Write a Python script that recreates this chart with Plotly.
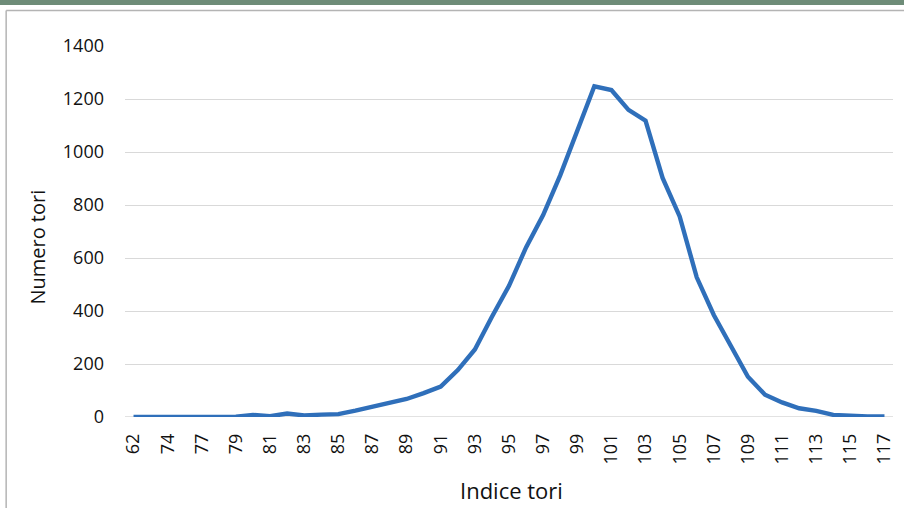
import plotly.graph_objects as go

categories = ["62", "72", "74", "76", "77", "78", "79", "80", "81", "82", "83", "84", "85",
              "86", "87", "88", "89", "90", "91", "92", "93", "94", "95", "96", "97", "98",
              "99", "100", "101", "102", "103", "104", "105", "106", "107", "108", "109",
              "110", "111", "112", "113", "114", "115", "116", "117"]
numero_tori = [0, 0, 0, 0, 0, 0, 1, 8, 3, 13, 6, 9, 11,
               24, 38, 50, 68, 90, 115, 177, 255, 378, 495, 640, 762, 912,
               1075, 1248, 1234, 1159, 1118, 902, 757, 527, 385, 270, 152,
               84, 55, 33, 23, 8, 3, 2, 2]
tick_labels = categories[::2]
y_ticks = [0, 200, 400, 600, 800, 1000, 1200, 1400]

FONT = "Open Sans"
W, H = 904, 508
L, R, T, B = 124.5, 893.5, 46, 417
pw, ph = R - L, B - T

def px(x):
    return (x - L) / pw

def py(y):
    return (B - y) / ph

fig = go.Figure()
fig.add_trace(go.Scatter(
    x=categories, y=numero_tori, mode="lines",
    line=dict(color="#2f6fba", width=4.4),
    hoverinfo="x+y", showlegend=False,
))

fig.update_layout(
    width=W, height=H,
    margin=dict(l=L, r=W - R, t=T, b=H - B, pad=0, autoexpand=False),
    paper_bgcolor="white", plot_bgcolor="white",
    font=dict(family=FONT, color="#000000"),
    xaxis=dict(
        type="category", tickmode="array", tickvals=tick_labels, ticktext=tick_labels,
        tickangle=-90, tickfont=dict(size=18, family=FONT, color="#111"),
        showgrid=False, showline=False, zeroline=False, ticks="",
        ticklabelstandoff=12, range=[-0.5, len(categories) - 0.5], automargin=False,
    ),
    yaxis=dict(
        range=[0, 1400], tickmode="array", tickvals=y_ticks,
        tickfont=dict(size=18, family=FONT, color="#111"),
        showgrid=True, gridcolor="#d9d9d9", gridwidth=1.3,
        zeroline=False, showline=False, ticks="", ticklabelstandoff=20, automargin=False,
    ),
    shapes=[
        dict(type="rect", xref="paper", yref="paper",
             x0=px(-5), x1=px(W + 5), y0=py(5), y1=py(-5),
             fillcolor="#6e8c78", line=dict(width=0), layer="below"),
        dict(type="line", xref="paper", yref="paper",
             x0=px(5.5), x1=px(W + 5), y0=py(10.5), y1=py(10.5),
             line=dict(color="#b4b4b4", width=1.5)),
        dict(type="line", xref="paper", yref="paper",
             x0=px(5.5), x1=px(5.5), y0=py(10.5), y1=py(H + 5),
             line=dict(color="#b4b4b4", width=1.5)),
        dict(type="line", xref="paper", yref="y",
             x0=0, x1=1, y0=0, y1=0,
             line=dict(color="#d9d9d9", width=1.3), layer="below"),
    ],
    annotations=[
        dict(text="Numero tori", xref="paper", yref="paper", x=px(36), y=py(247),
             textangle=-90, showarrow=False, font=dict(size=20, family=FONT, color="#111"),
             xanchor="center", yanchor="middle"),
        dict(text="Indice tori", xref="paper", yref="paper", x=px(512), y=py(490),
             showarrow=False, font=dict(size=22, family=FONT, color="#111"),
             xanchor="center", yanchor="middle"),
    ],
)

fig.write_html(
    "out.html",
    config={"displayModeBar": False},
    post_script="document.body.style.margin='0';document.body.style.overflow='hidden';",
)
